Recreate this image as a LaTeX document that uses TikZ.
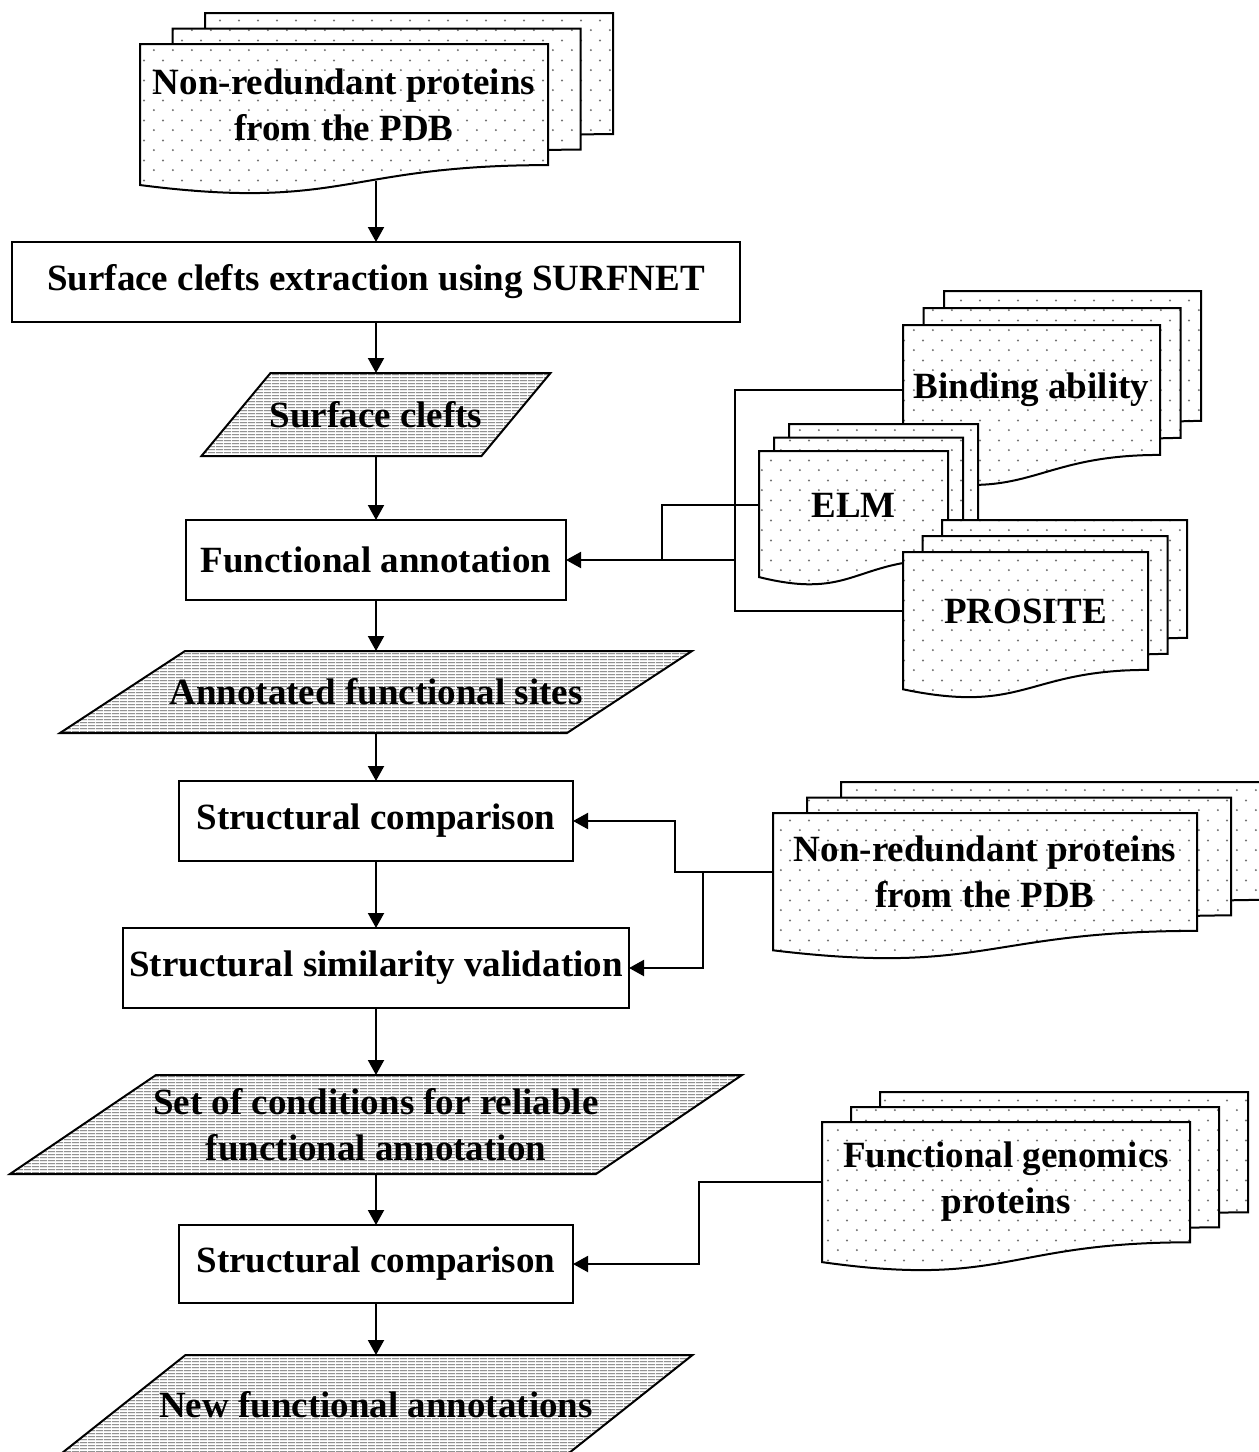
\documentclass[tikz,border=0pt]{standalone}
\usepackage{fontspec}
\setmainfont{Liberation Serif}
\usetikzlibrary{arrows.meta, positioning, calc, patterns, backgrounds}

\pgfdeclarepatternformonly{sparsedots}{\pgfqpoint{0pt}{0pt}}{\pgfqpoint{9.5pt}{10pt}}{\pgfqpoint{9.5pt}{10pt}}{%
  \pgfpathcircle{\pgfqpoint{1pt}{1pt}}{0.6pt}%
  \pgfpathcircle{\pgfqpoint{5.75pt}{6pt}}{0.6pt}%
  \pgfusepath{fill}}
\pgfdeclarepatternformonly{hlines}{\pgfqpoint{0pt}{0pt}}{\pgfqpoint{4pt}{1.6pt}}{\pgfqpoint{4pt}{1.6pt}}{%
  \pgfsetlinewidth{0.5pt}%
  \pgfpathmoveto{\pgfqpoint{0pt}{0.8pt}}%
  \pgfpathlineto{\pgfqpoint{4pt}{0.8pt}}%
  \pgfusepath{stroke}}

\tikzset{
  pics/docstack/.style n args={4}{code={
    \foreach \k in {2,1,0}
      \path[sheet] ({\k*#3},{\k*#4}) -- ++(#1,0) -- ++(0,{0.802*#2})
        .. controls ({\k*#3+0.5*#1},{\k*#4+0.802*#2}) and ({\k*#3+0.5*#1},{\k*#4+1.1075*#2}) .. ({\k*#3},{\k*#4+0.934*#2}) -- cycle;
  }},
}

\begin{document}
\begin{tikzpicture}[
    x=0.5pt, y=-0.5pt, >={Triangle[length=7.5pt, width=8pt]},
    every node/.style={align=center, inner sep=0pt, outer sep=0pt, font=\bfseries\fontsize{18.5}{23}\selectfont},
    procbox/.style={rectangle, draw, line width=1pt, fill=white, minimum height=40pt},
    databox/.style={rectangle, minimum height=41pt},
    doctext/.style={rectangle},
    sheet/.style={draw, line width=1pt, preaction={fill=white}, pattern=sparsedots, pattern color=black!55},
    hatched/.style={draw, line width=1pt, preaction={fill=white}, pattern=hlines, pattern color=black!65},
    link/.style={line width=1pt}
]
\useasboundingbox (0,0) rectangle (1259,1452);

% main column
\node (surf_extract) [procbox, minimum width=364pt] at (376,282) {Surface clefts extraction using SURFNET};
\node (surf_clefts) [databox, minimum width=140pt, minimum height=41.5pt, below=25.5pt of surf_extract] {Surface clefts};
\node (func_annot) [procbox, minimum width=190pt, below=32pt of surf_clefts] {Functional annotation};
\node (annot_sites) [databox, minimum width=253.5pt, below=25.5pt of func_annot] {Annotated functional sites};
\node (struct_comp) [procbox, minimum width=197pt, below=24pt of annot_sites] {Structural comparison};
\node (struct_valid) [procbox, minimum width=253pt, below=33.5pt of struct_comp] {Structural similarity validation};
\node (cond_set) [databox, minimum width=293pt, minimum height=49.5pt, below=33.5pt of struct_valid] {Set of conditions for reliable\\functional annotation};
\node (struct_comp_fg) [procbox, minimum width=197pt, minimum height=39pt, below=25.5pt of cond_set] {Structural comparison};
\node (new_annot) [databox, minimum width=253.5pt, minimum height=50pt, below=26pt of struct_comp_fg] {New functional annotations};

% data sources
\node (pdb_top) [doctext, minimum width=204pt, minimum height=60.5pt, above=38.5pt of surf_extract, xshift=-16pt] {Non-redundant proteins\\from the PDB};
\node (bind_ability) [doctext, minimum width=128.5pt, minimum height=65pt, anchor=north west] at (903,325) {Binding ability};
\node (elm_db) [doctext, minimum width=94.5pt, minimum height=54pt, anchor=north west] at (759,451) {ELM};
\node (prosite_db) [doctext, minimum width=122.5pt, minimum height=59pt, anchor=north west] at (903,552) {PROSITE};
\node (pdb_right) [doctext, minimum width=212pt, minimum height=59pt, anchor=north west] at (773,813) {Non-redundant proteins\\from the PDB};
\node (fg_proteins) [doctext, minimum width=184pt, minimum height=60pt, anchor=north west] at (822,1122) {Functional genomics\\proteins};

\coordinate (db_bus) at (735,0);
\coordinate (elm_bus) at (662,0);
\coordinate (pdb_bus_a) at (675,0);
\coordinate (pdb_bus_b) at (703,0);
\coordinate (fg_bus) at (699,0);

\begin{scope}[on background layer]
\foreach \n/\o in {surf_clefts/69, annot_sites/125, cond_set/146, new_annot/126}
  \path[hatched] ($(\n.north west)+(\o/2,0)$) -- ($(\n.north east)+(\o/2,0)$) -- ($(\n.south east)-(\o/2,0)$) -- ($(\n.south west)-(\o/2,0)$) -- cycle;
\pic at (pdb_top.north west) {docstack={408}{151}{32.5}{-15.5}};
\pic at (bind_ability.north west) {docstack={257}{162}{20.5}{-17}};
\pic at (elm_db.north west) {docstack={189}{135}{15}{-13.5}};
\pic at (prosite_db.north west) {docstack={245}{147}{19.5}{-16}};
\pic at (pdb_right.north west) {docstack={424}{147}{34}{-15.5}};
\pic at (fg_proteins.north west) {docstack={368}{150}{29}{-15}};
\end{scope}

\draw[link,->] ($(pdb_top.south -| surf_extract.north)+(0,16)$) -- (surf_extract.north);
\draw[link,->] (surf_extract) -- (surf_clefts);
\draw[link,->] (surf_clefts) -- (func_annot);
\draw[link,->] (func_annot) -- (annot_sites);
\draw[link,->] (annot_sites) -- (struct_comp);
\draw[link,->] (struct_comp) -- (struct_valid);
\draw[link,->] (struct_valid) -- (cond_set);
\draw[link,->] (cond_set) -- (struct_comp_fg);
\draw[link,->] (struct_comp_fg) -- (new_annot);

\draw[link] (bind_ability.west) -- (bind_ability.west -| db_bus) -- (prosite_db.west -| db_bus) -- (prosite_db.west);
\draw[link,->] (func_annot.east -| db_bus) -- (func_annot.east);
\draw[link] (elm_db.west) -- (elm_db.west -| elm_bus) -- (func_annot.east -| elm_bus);
\draw[link,->] (pdb_right.west) -- (pdb_right.west -| pdb_bus_a) -- (struct_comp.east -| pdb_bus_a) -- (struct_comp.east);
\draw[link,->] (pdb_right.west -| pdb_bus_b) -- (struct_valid.east -| pdb_bus_b) -- (struct_valid.east);
\draw[link,->] (fg_proteins.west) -- (fg_proteins.west -| fg_bus) -- (struct_comp_fg.east -| fg_bus) -- (struct_comp_fg.east);
\end{tikzpicture}
\end{document}
